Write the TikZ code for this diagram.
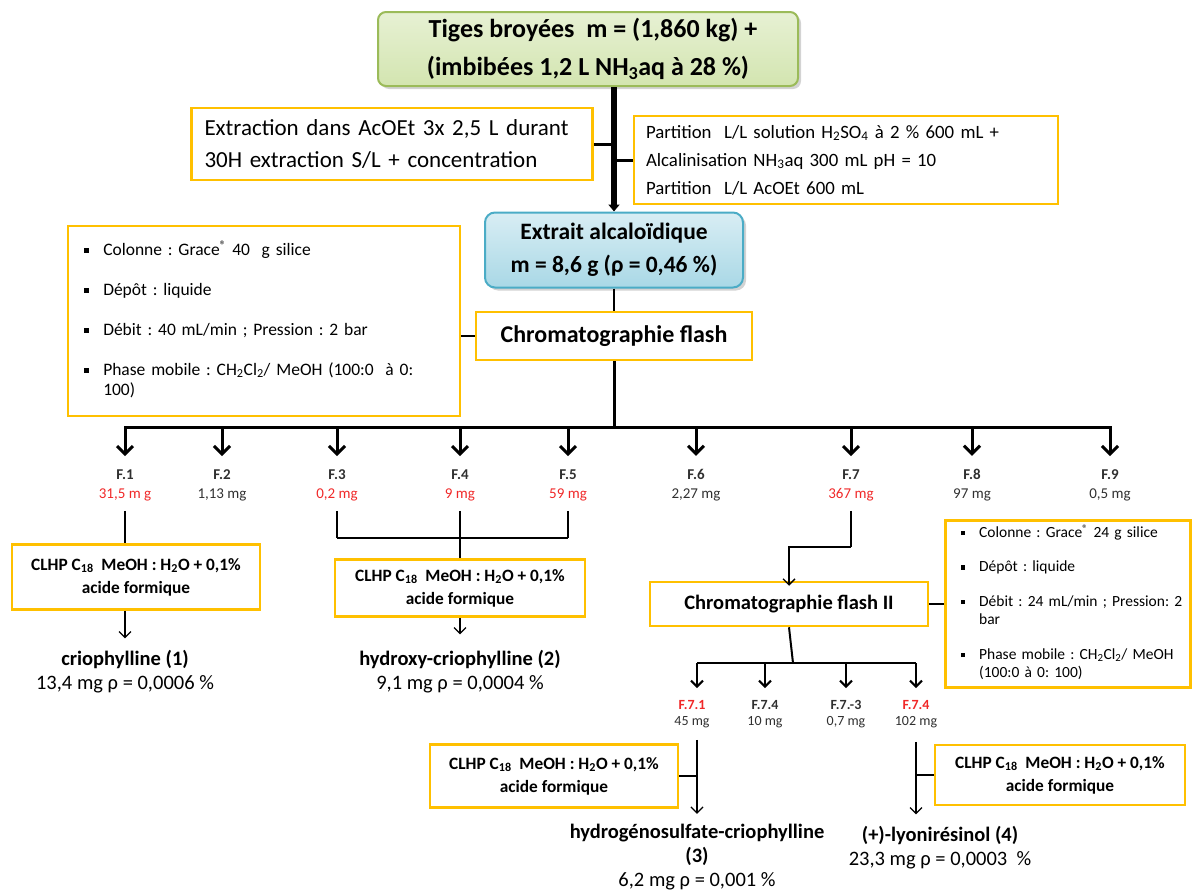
\documentclass[tikz,border=0pt]{standalone}
\usepackage{fontspec}
\setmainfont{Carlito}
\usepackage{xcolor}
\usetikzlibrary{positioning,arrows.meta,shadows,calc}
\definecolor{boxgold}{HTML}{FFC000}
\definecolor{titlefill}{HTML}{D3E5B0}
\definecolor{titleline}{HTML}{9BBB59}
\definecolor{bluefill}{HTML}{A9D8E6}
\definecolor{blueline}{HTML}{4BACC6}
\definecolor{fracred}{HTML}{F02828}
\definecolor{fracgrey}{HTML}{303030}
\newcommand{\sqb}{\rule[0.3ex]{0.3em}{0.3em}}
\newcommand{\fs}[2]{\fontsize{#1}{#2}\selectfont}
\frenchspacing

\begin{document}
\begin{tikzpicture}[x=1pt,y=-1pt,
  goldbox/.style={draw=boxgold,line width=2.5pt,fill=white,align=center,inner sep=3pt},
  titlebox/.style={draw=titleline,line width=2pt,rounded corners=8pt,top color=titlefill!55,bottom color=titlefill,align=center,
    drop shadow={opacity=0.35,shadow xshift=3pt,shadow yshift=-3pt},font=\fs{26}{38}\bfseries},
  bluebox/.style={draw=blueline,line width=2pt,rounded corners=10pt,top color=bluefill!45,bottom color=bluefill,align=center,
    drop shadow={opacity=0.35,shadow xshift=3pt,shadow yshift=-3pt},font=\fs{23.5}{33}\bfseries},
  clhp/.style={goldbox,font=\fs{17.3}{23}\bfseries},
  frac/.style={align=center,inner sep=0pt,font=\fs{15}{19},text=fracgrey},
  subfrac/.style={align=center,inner sep=0pt,font=\fs{14}{16},text=fracgrey},
  prod/.style={align=center,inner sep=0pt,font=\fs{20.5}{24}},
  trunk/.style={line width=5.5pt},
  bigline/.style={line width=3pt},
  bigarr/.style={line width=3pt,-{Straight Barb[length=8pt,width=16pt,line width=3pt]}},
  midarr/.style={line width=2pt,-{Straight Barb[length=6pt,width=12pt,line width=2pt]}},
  thin/.style={line width=1.3pt},
  thinarr/.style={line width=1.3pt,-{Straight Barb[length=6pt,width=12pt,line width=1.3pt]}}
]
\useasboundingbox (0,0) rectangle (1192,894);

% extraction
\node[titlebox,minimum width=420,minimum height=74] (tiges) at (588,49)
  {\hspace{10pt}Tiges broyées\ \ m = (1,860 kg) +\\(imbibées 1,2 L NH\textsubscript{3}aq à 28 \%)};
\node[bluebox,minimum width=258,minimum height=75] (extrait) at (614,250)
  {Extrait alcaloïdique\\m = 8,6 g (ρ = 0,46 \%)};
\node[goldbox,minimum width=401,minimum height=72,inner xsep=13pt,text width=375pt,align=left,font=\fs{23}{32}] (extr) at (392,144)
  {Extraction dans AcOEt 3x 2,5 L durant\\30H extraction S/L + concentration};
\node[goldbox,minimum width=424,minimum height=88,inner xsep=12pt,text width=400pt,align=left,font=\fs{18.8}{28}] (part) at (846,160)
  {Partition\ \ L/L solution H\textsubscript{2}SO\textsubscript{4} à 2 \% 600 mL +\\
   Alcalinisation NH\textsubscript{3}aq 300 mL pH = 10\\
   Partition\ \ L/L AcOEt 600 mL};
\draw[trunk,-{Triangle[length=7pt,width=11pt]}] (tiges.south -| extrait.north) -- (extrait.north);
\draw[bigline] (extr.east) -- (extr.east -| extrait.north);
\draw[bigline] (part.west) -- (part.west -| extrait.north);

% first flash
\node[goldbox,minimum width=276,minimum height=48,font=\fs{24}{28}\bfseries] (flash) at (614,336) {Chromatographie flash};
\node[goldbox,minimum width=392,minimum height=190,inner xsep=16pt,text width=360pt,align=left,font=\fs{17.5}{20}] (cond) at (264,321)
  {\begin{tabular}{@{}l@{\hspace{14pt}}l@{}}
   \sqb & Colonne : Grace\textsuperscript{®} 40\ \ g silice\\[20pt]
   \sqb & Dépôt : liquide\\[20pt]
   \sqb & Débit : 40 mL/min ; Pression : 2 bar\\[20pt]
   \sqb & Phase mobile : CH\textsubscript{2}Cl\textsubscript{2}/ MeOH (100:0\ \ à 0:\\
        & 100)
   \end{tabular}};
\draw[thin] (extrait.south) -- (flash.north);
\draw[thin] (flash.west -| cond.east) -- (flash.west);

% fractions
\node[frac] (f1) at (125,485) {\textbf{F.1}\\\textcolor{fracred}{31,5 m g}};
\node[frac] (f2) at (222,485) {\textbf{F.2}\\1,13 mg};
\node[frac] (f3) at (337,485) {\textbf{F.3}\\\textcolor{fracred}{0,2 mg}};
\node[frac] (f4) at (460,485) {\textbf{F.4}\\\textcolor{fracred}{9 mg}};
\node[frac] (f5) at (568,485) {\textbf{F.5}\\\textcolor{fracred}{59 mg}};
\node[frac] (f6) at (696,485) {\textbf{F.6}\\2,27 mg};
\node[frac] (f7) at (851,485) {\textbf{F.7}\\\textcolor{fracred}{367 mg}};
\node[frac] (f8) at (972,485) {\textbf{F.8}\\97 mg};
\node[frac] (f9) at (1110,485) {\textbf{F.9}\\0,5 mg};
\coordinate (bar) at (614,427);
\draw[bigline] (flash.south) -- (bar);
\draw[bigline,line cap=rect] (bar -| f1) -- (bar -| f9);
\foreach \f in {f1,f2,f3,f4,f5,f6,f7,f8,f9}
  \draw[bigarr,shorten >=13pt] (bar -| \f) -- (\f);

% F.1
\node[clhp,minimum width=248,minimum height=65] (clhpa) at (136,577) {CLHP C\textsubscript{18}\ \ MeOH : H\textsubscript{2}O + 0,1\%\\acide formique};
\node[prod] (p1) at (125,672) {\bfseries criophylline (1)\\13,4 mg ρ = 0,0006 \%};
\draw[thin,shorten <=10pt] (f1.south) -- (f1.south |- clhpa.north);
\draw[thinarr,shorten >=12pt] (clhpa.south -| f1) -- (p1.north);

% F.3 - F.5
\coordinate (join) at (460,538);
\node[clhp,minimum width=250,minimum height=57] (clhpb) at (460,588) {CLHP C\textsubscript{18}\ \ MeOH : H\textsubscript{2}O + 0,1\%\\acide formique};
\node[prod] (p2) at (460,672) {\bfseries hydroxy-criophylline (2)\\9,1 mg ρ = 0,0004 \%};
\draw[thin,shorten <=10pt] (f3.south) -- (f3.south |- join);
\draw[thin,shorten <=10pt] (f5.south) -- (f5.south |- join);
\draw[thin] (join -| f3) -- (join -| f5);
\draw[thin,shorten <=10pt] (f4.south) -- (f4.south |- clhpb.north);
\draw[thinarr,shorten >=16pt] (clhpb.south -| f4) -- (p2.north);

% F.7
\node[goldbox,minimum width=278,minimum height=44,font=\fs{20.5}{24}\bfseries] (flash2) at (789,604) {Chromatographie flash II};
\node[goldbox,minimum width=245,minimum height=167,inner xsep=15pt,text width=215pt,align=left,font=\fs{15.5}{18.5}] (cond2) at (1068,604)
  {\begin{tabular}{@{}l@{\hspace{14pt}}l@{}}
   \sqb & Colonne : Grace\textsuperscript{®} 24 g silice\\[16pt]
   \sqb & Dépôt : liquide\\[16pt]
   \sqb & Débit : 24 mL/min ; Pression: 2\\
        & bar\\[16pt]
   \sqb & Phase mobile : CH\textsubscript{2}Cl\textsubscript{2}/ MeOH\\
        & (100:0 à 0: 100)
   \end{tabular}};
\coordinate (bend) at (851,547);
\draw[thin,shorten <=10pt] (f7.south) -- (bend);
\draw[thinarr] (bend) -| ([yshift=-5pt]flash2.north);
\draw[thin] (flash2.east) -- (cond2.west);

% sub-fractions
\node[subfrac] (g1) at (692,714) {\color{fracred}\textbf{F.7.1}\\45 mg};
\node[subfrac] (g2) at (765,714) {\textbf{F.7.4}\\10 mg};
\node[subfrac] (g3) at (846,714) {\textbf{F.7.-3}\\0,7 mg};
\node[subfrac] (g4) at (916,714) {\color{fracred}\textbf{F.7.4}\\102 mg};
\coordinate (subbar) at (793,663);
\draw[bigline,line width=2pt] (flash2.south) -- (subbar);
\draw[bigline,line width=2pt] ([xshift=5pt]subbar -| g1) -- (subbar -| g4);
\draw[midarr,shorten >=12pt] ([xshift=5pt]subbar -| g1) -- ([xshift=5pt]g1.north);
\foreach \g in {g2,g3,g4}
  \draw[midarr,shorten >=12pt] (subbar -| \g) -- (\g.north);

% F.7.1
\node[clhp,minimum width=248,minimum height=63] (clhpc) at (554,776) {CLHP C\textsubscript{18}\ \ MeOH : H\textsubscript{2}O + 0,1\%\\acide formique};
\node[prod] (p3) at (697,857) {\bfseries hydrogénosulfate-criophylline\\\bfseries (3)\\6,2 mg ρ = 0,001 \%};
\draw[thinarr,shorten <=12pt,shorten >=10pt] ([xshift=5pt]g1.south) -- (p3.north);
\draw[thin] (clhpc.east) -- (clhpc.east -| p3.north);

% F.7.4
\node[clhp,minimum width=250,minimum height=60] (clhpd) at (1060,775) {CLHP C\textsubscript{18}\ \ MeOH : H\textsubscript{2}O + 0,1\%\\acide formique};
\node[prod] (p4) at (940,848) {\bfseries (+)-lyonirésinol (4)\\23,3 mg ρ = 0,0003\ \ \%};
\draw[thinarr,shorten <=14pt,shorten >=12pt] (g4.south) -- (p4.north -| g4.south);
\draw[thin] (clhpd.west) -- (clhpd.west -| g4.south);
\end{tikzpicture}
\end{document}
